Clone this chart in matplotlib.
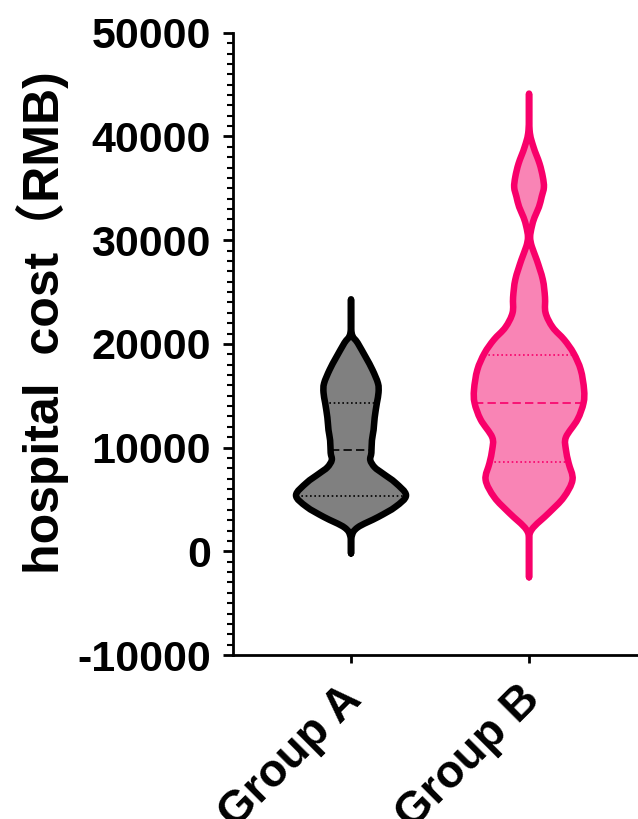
import matplotlib
matplotlib.use("Agg")
import matplotlib.pyplot as plt
from matplotlib.path import Path
from matplotlib.patches import PathPatch
from matplotlib.ticker import MultipleLocator
import numpy as np

plt.rcParams['font.family'] = ['Liberation Sans', 'Noto Sans CJK SC', 'DejaVu Sans']
plt.rcParams['font.weight'] = 'bold'
plt.rcParams['axes.unicode_minus'] = False

groups = ["Group A", "Group B"]

# violin outlines: cost level -> relative density (max = 1)
a_cost = [24000, 21100, 20100, 18700, 17500, 16200, 15300, 14300, 12900, 11700,
          10700, 9500, 8800, 8100, 7500, 6600, 5400, 4300, 3300, 2300, 1400, -200]
a_density = [0, 0.01, 0.12, 0.27, 0.39, 0.49, 0.50, 0.47, 0.43, 0.41,
             0.38, 0.37, 0.35, 0.43, 0.58, 0.81, 1.0, 0.81, 0.49, 0.12, 0.01, 0]

b_cost = [43800, 40600, 39000, 37400, 36100, 35100, 34200, 33200, 32200, 31300,
          30300, 29400, 28100, 26200, 24500, 23000, 21600, 20400, 19100, 17500,
          15600, 14300, 12700, 11000, 9800, 8500, 6900, 5200, 3700, 2100, 800, -2500]
b_density = [0, 0.01, 0.08, 0.19, 0.25, 0.27, 0.23, 0.18, 0.10, 0.05,
             0.02, 0.05, 0.14, 0.25, 0.29, 0.30, 0.43, 0.64, 0.81, 0.94,
             1.0, 0.99, 0.88, 0.67, 0.67, 0.72, 0.79, 0.63, 0.36, 0.05, 0, 0]

# quartiles (Q1, median, Q3)
a_quart = [5300, 9800, 14300]
b_quart = [8600, 14300, 18900]

fills = ["#808080", "#F984B5"]
edges = ["#000000", "#F8006A"]


def smooth_path(xs, ys):
    # Catmull-Rom through the outline points, as cubic bezier segments
    pts = np.column_stack([xs, ys])
    n = len(pts)
    verts = [pts[0]]
    codes = [Path.MOVETO]
    for i in range(n - 1):
        p0 = pts[i - 1] if i > 0 else pts[i]
        p1 = pts[i]
        p2 = pts[i + 1]
        p3 = pts[i + 2] if i + 2 < n else pts[i + 1]
        verts += [p1 + (p2 - p0) / 6, p2 - (p3 - p1) / 6, p2]
        codes += [Path.CURVE4] * 3
    return Path(verts, codes)


def draw_violin(ax, pos, cost, dens, quart, fc, ec, half=0.309):
    cost = np.array(cost, dtype=float)
    w = np.array(dens) * half
    xs = np.concatenate([pos + w[::-1], pos - w])
    ys = np.concatenate([cost[::-1], cost])
    patch = PathPatch(smooth_path(xs, ys), facecolor=fc, edgecolor=ec,
                      lw=4.7, joinstyle='round', capstyle='round', zorder=2)
    ax.add_patch(patch)
    order = np.argsort(cost)
    for q, ls in zip(quart, [(0, (1, 1.6)), (0, (5, 2.5)), (0, (1, 1.6))]):
        qw = np.interp(q, cost[order], w[order])
        ax.plot([pos - qw, pos + qw], [q, q], color=ec, lw=1.2,
                linestyle=ls, zorder=3)


fig = plt.figure(figsize=(6.38, 8.19), dpi=100)
ax = fig.add_axes([0.3652, 0.2002, 0.6348, 0.7598])

draw_violin(ax, 1, a_cost, a_density, a_quart, fills[0], edges[0])
draw_violin(ax, 2, b_cost, b_density, b_quart, fills[1], edges[1])

ax.set_xlim(0.337, 2.612)
ax.set_ylim(-10000, 50000)
ax.yaxis.set_major_locator(MultipleLocator(10000))
ax.yaxis.set_minor_locator(MultipleLocator(1000))
ax.set_xticks([1, 2])
ax.set_xticklabels([])
# rotated group names, right end placed just under each tick
for i, g in enumerate(groups):
    ax.annotate(g, xy=(i + 1, 0), xycoords=ax.get_xaxis_transform(),
                xytext=(3, -27), textcoords='offset points',
                rotation=45, ha='right', va='center', rotation_mode='anchor',
                fontsize=33, fontweight='bold', annotation_clip=False)
for lab in ax.get_yticklabels():
    lab.set_fontsize(31)
    lab.set_fontweight('bold')

for s in ['top', 'right']:
    ax.spines[s].set_visible(False)
for s in ['left', 'bottom']:
    ax.spines[s].set_linewidth(2)

ax.tick_params(axis='y', which='major', length=7, width=2, pad=9)
ax.tick_params(axis='y', which='minor', length=4, width=1.5)
ax.tick_params(axis='x', which='major', length=6, width=2)

fig.text(0.066, 0.606, "hospital  cost（RMB)", rotation=90, ha='center',
         va='center', fontsize=36, fontweight='bold')

fig.savefig("out.png", dpi=100)
